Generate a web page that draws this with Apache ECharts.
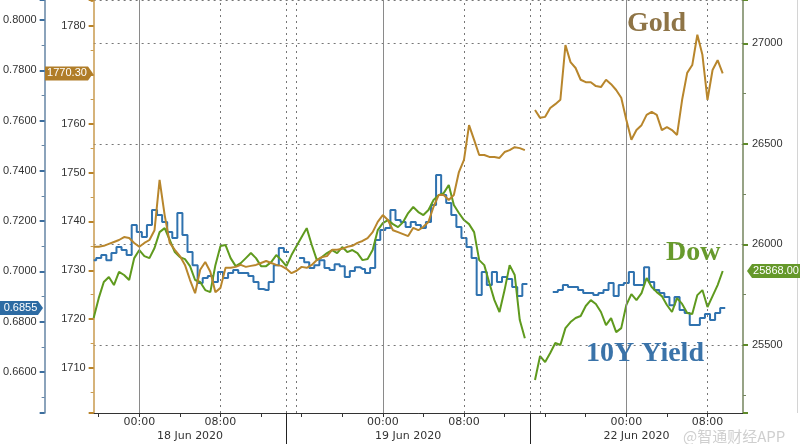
<!DOCTYPE html>
<html><head><meta charset="utf-8">
<script src="https://cdn.jsdelivr.net/npm/echarts@6/dist/echarts.min.js"></script>
<style>html,body{margin:0;padding:0;background:#fff}#c{width:800px;height:444px}</style>
</head><body><div id="c"></div>
<script>
// ---- time slots (30 min, weekend removed) ----
const dayKeys = ['2020-06-17','2020-06-18','2020-06-19','2020-06-22'];
const dateLabels = {'2020-06-18':'18 Jun 2020','2020-06-19':'19 Jun 2020','2020-06-22':'22 Jun 2020'};
const startHour = 19.5, stepHour = 0.5, slotCount = 129;
const categories = [];
for (let i = 0; i < slotCount; i++) {
  const h = startHour + i * stepHour, d = Math.floor(h / 24), hh = h - 24 * d;
  categories.push(dayKeys[d] + ' ' + String(Math.floor(hh)).padStart(2, '0') + ':' + (hh % 1 ? '30' : '00'));
}
const labelTimes = ['00:00', '08:00'];
const sessionBreaks = ['2020-06-18 14:30', '2020-06-19 14:30'];
const midnightLines = ['2020-06-18 00:00', '2020-06-19 00:00', '2020-06-22 00:00'];
const dottedLines = ['2020-06-18 08:00','2020-06-18 14:30','2020-06-18 15:30','2020-06-19 08:00','2020-06-19 14:30','2020-06-19 15:30','2020-06-22 08:00'];

// ---- series values ----
const goldValues = [1734.8,1734.8,1735.0,1735.4,1735.8,1736.2,1736.8,1736.6,1735.6,1734.8,
1735.6,1736.2,1738.2,1748.5,1741.3,1735.6,1734.2,1732.9,1731.1,1728.0,
1725.3,1730.1,1731.7,1729.7,1725.5,1726.4,1730.5,1730.5,1730.7,1731.1,
1730.7,1730.9,1731.1,1731.5,1731.9,1731.5,1731.1,1730.9,1730.3,1729.4,
1729.9,1730.7,1730.5,1731.1,1732.1,1732.7,1732.9,1734.2,1734.2,1734.4,
1734.8,1735.0,1735.6,1736.0,1736.6,1737.8,1739.9,1741.3,1740.3,1738.2,
1737.8,1737.4,1737.0,1738.7,1738.2,1738.9,1739.9,1743.0,1745.4,1745.4,
1744.4,1745.4,1750.1,1752.6,1759.7,1756.7,1753.6,1753.6,1753.2,1753.2,
1753.0,1754.2,1754.6,1755.2,1755.0,1754.6,null,1762.8,1761.2,1761.4,
1763.2,1764.0,1764.9,1776.1,1772.6,1771.4,1769.0,1768.5,1768.5,1767.7,
1767.5,1769.0,1768.1,1766.9,1765.3,1760.8,1756.7,1758.7,1759.7,1761.8,
1762.4,1761.8,1758.7,1759.3,1758.7,1757.7,1764.9,1770.4,1772.0,1778.2,
1774.1,1764.9,1771.0,1773.0,1770.3,null,null,null,null];

const dowValues = [25634,25733,25813,25838,25798,25863,25848,25823,25932,25972,
25942,25932,25982,26061,26081,26022,25962,25937,25927,25892,
25823,25813,25773,25763,25897,25992,25997,25932,25892,25907,
25932,25957,25932,25892,25892,25912,25947,25922,25892,25947,
25992,26037,26081,25997,25922,25937,25957,25972,25957,25987,
25962,25972,25957,25922,25927,25972,26071,26106,26121,26101,
26086,26111,26156,26186,26161,26146,26171,26221,26245,26255,
26295,26196,26156,26121,26101,26061,25922,25897,25808,25723,
25664,25773,25897,25848,25624,25534,null,25326,25445,25415,
25460,25510,25500,25584,25614,25634,25644,25694,25723,25704,
25664,25599,25634,25564,25584,25699,25753,25723,25758,25833,
25788,25763,25743,25699,25664,25733,25704,25659,25654,25748,
25773,25689,25743,25798,25868,null,null,null,null];

const yieldValues = [0.7045,0.7053,0.7065,0.7045,0.7073,0.7097,0.7085,0.7065,0.7185,0.7157,
0.7137,0.7185,0.7244,0.7224,0.7197,0.7157,0.7133,0.7232,0.7145,0.7077,
0.7025,0.6954,0.6974,0.6982,0.6958,0.6998,0.6974,0.6994,0.7006,0.6994,
0.6994,0.6982,0.6958,0.6930,0.6926,0.6958,0.7025,0.7093,0.7077,null,
null,0.7053,0.7037,0.7014,0.7025,0.7045,0.7014,0.7006,0.7029,0.7021,
0.6978,0.7002,0.7017,0.7010,0.6994,0.7014,0.7125,0.7165,0.7173,0.7244,
0.7205,0.7197,0.7177,0.7197,0.7185,0.7173,0.7197,0.7264,0.7384,0.7304,
0.7272,0.7224,0.7177,0.7133,0.7097,0.7053,0.6906,0.6998,0.6946,0.6998,
0.6958,0.6978,0.6970,0.6938,0.6902,0.6950,null,null,null,null,
null,0.6918,0.6926,0.6946,0.6938,0.6938,0.6926,0.6914,0.6914,0.6906,
0.6914,0.6926,0.6954,0.6902,0.6946,0.6954,0.6998,0.6946,0.6946,0.7017,
0.6958,0.6926,0.6914,0.6898,0.6866,0.6898,0.6847,0.6835,0.6787,0.6787,
0.6815,0.6831,0.6807,0.6835,0.6855,null,null,null,null];

// ---- layout / style ----
const GRID = {left: 93, right: 57, top: 0, bottom: 31};
const YIELD_OFFSET = 49;
const C = {gold: '#B8862C', dow: '#5F9A1E', yld: '#2F72AF', goldAxis: '#C89A4E', yldAxis: '#6585A5', dowAxis: '#74855E'};

const chart = echarts.init(document.getElementById('c'), null, {renderer: 'canvas'});
const isMult = (v, s) => Math.abs(v / s - Math.round(v / s)) < 1e-6;
const breakIdx = sessionBreaks.map(b => categories.indexOf(b));
const bounds = [0, ...breakIdx, slotCount - 1];
const centerIdx = bounds.slice(1).map((b, k) => Math.round((bounds[k] + b) / 2));
const lastOf = a => { for (let i = a.length - 1; i >= 0; i--) if (a[i] != null) return a[i]; };

const font = 'Liberation Sans';
const yAxisBase = (color, tickColor) => ({
  type: 'value', splitLine: {show: false},
  axisLine: {show: true, lineStyle: {color: color, width: 1.5}},
  axisTick: {show: true, length: 5, lineStyle: {color: tickColor, width: 2}},
  minorTick: {show: true, splitNumber: 2, length: 3, lineStyle: {color: color}},
});

chart.setOption({
  animation: false,
  backgroundColor: '#fff',
  grid: {left: GRID.left, right: GRID.right, top: GRID.top, bottom: GRID.bottom, containLabel: false},
  xAxis: [
    {type: 'category', data: categories, boundaryGap: false, position: 'bottom',
     axisLine: {lineStyle: {color: '#333', width: 1}},
     axisTick: {interval: (i, v) => v.slice(14) === '00' && (+v.slice(11, 13)) % 4 === 0, length: 4, lineStyle: {color: '#333'}},
     axisLabel: {interval: (i, v) => labelTimes.includes(v.slice(11)), formatter: v => v.slice(11),
                 fontFamily: 'DejaVu Sans', fontSize: 11, color: '#333', margin: 4},
     splitLine: {show: false}},
    {type: 'category', data: categories, boundaryGap: false, position: 'bottom',
     axisLine: {show: false},
     axisTick: {show: true, interval: i => breakIdx.includes(i), length: 31, lineStyle: {color: '#222', width: 1}},
     axisLabel: {interval: i => centerIdx.includes(i), formatter: v => dateLabels[v.slice(0, 10)] || '',
                 fontFamily: 'DejaVu Sans', fontSize: 11, color: '#333', margin: 18},
     splitLine: {show: false}}
  ],
  yAxis: [
    Object.assign(yAxisBase(C.goldAxis, '#B8832A'), {position: 'left', offset: 0, min: 1700.79, max: 1785.32, splitNumber: 8,
      axisLabel: {formatter: v => isMult(v, 10) ? v.toFixed(0) : '', color: '#333', fontSize: 11, fontFamily: font, margin: 8}}),
    Object.assign(yAxisBase(C.yldAxis, '#3C6E9E'), {position: 'left', offset: YIELD_OFFSET, min: 0.6437, max: 0.80796, splitNumber: 8,
      axisLabel: {formatter: v => isMult(v, 0.02) ? v.toFixed(4) : '', color: '#333', fontSize: 11, fontFamily: font, margin: 8}}),
    Object.assign(yAxisBase(C.dowAxis, '#5F8A2A'), {position: 'right', offset: 0, min: 25162, max: 27215, splitNumber: 4,
      axisLabel: {formatter: v => isMult(v, 500) ? v.toFixed(0) : '', color: '#333', fontSize: 11, fontFamily: font, margin: 9},
      splitLine: {show: true, lineStyle: {color: '#777', type: [2, 4], width: 1}}})
  ],
  series: [
    {type: 'line', name: 'grid', yAxisIndex: 2, data: categories.map(() => null), z: 1, silent: true, symbol: 'none',
     markLine: {silent: true, symbol: ['none', 'none'], label: {show: false}, animation: false,
       data: midnightLines.map(c => ({xAxis: c, lineStyle: {type: 'solid', color: '#8a8a8a', width: 1}}))
         .concat(dottedLines.map(c => ({xAxis: c, lineStyle: {type: [2, 4], color: '#777', width: 1}})))}},
    {type: 'line', name: '10Y Yield', yAxisIndex: 1, data: yieldValues, symbol: 'none', z: 3, step: 'middle',
     lineStyle: {color: C.yld, width: 2}, itemStyle: {color: C.yld}},
    {type: 'line', name: 'Dow', yAxisIndex: 2, data: dowValues, symbol: 'none', z: 4,
     lineStyle: {color: C.dow, width: 2}, itemStyle: {color: C.dow}},
    {type: 'line', name: 'Gold', yAxisIndex: 0, data: goldValues, symbol: 'none', z: 5,
     lineStyle: {color: C.gold, width: 2}, itemStyle: {color: C.gold}}
  ]
});

// ---- value tags on axes ----
function tag(xl, xr, y, h, pointRight, fill, text, tx) {
  const p = pointRight
    ? [[xl, y - h / 2], [xr - 5, y - h / 2], [xr, y], [xr - 5, y + h / 2], [xl, y + h / 2]]
    : [[xl + 5, y - h / 2], [xr, y - h / 2], [xr, y + h / 2], [xl + 5, y + h / 2], [xl, y]];
  return [
    {type: 'polygon', shape: {points: p}, style: {fill: fill}, z: 50},
    {type: 'text', x: tx, y: y, style: {text: text, fill: '#fff', font: '11px "Liberation Sans"', align: 'center', verticalAlign: 'middle'}, z: 51}
  ];
}
const gLast = lastOf(goldValues), yLast = lastOf(yieldValues), dLast = lastOf(dowValues);
const gy = chart.convertToPixel({yAxisIndex: 0}, gLast);
const yy = chart.convertToPixel({yAxisIndex: 1}, yLast);
const dy = chart.convertToPixel({yAxisIndex: 2}, dLast);
const W = 800, H = 444;
const gAxisX = GRID.left, yAxisX = GRID.left - YIELD_OFFSET, dAxisX = W - GRID.right;
chart.setOption({graphic: [].concat(
  tag(yAxisX + 1, gAxisX, gy, 14, true, '#B07D28', gLast.toFixed(2), (yAxisX + gAxisX - 4) / 2 + 0.5),
  tag(0, yAxisX - 1, yy, 14, true, '#2D6BA3', yLast.toFixed(4), (yAxisX - 5) / 2 + 1),
  tag(dAxisX + 4, W, dy, 14, false, '#65982A', dLast.toFixed(2), (dAxisX + 9 + W) / 2),
  [
    {type: 'line', shape: {x1: W - 2.5, y1: 0, x2: W - 2.5, y2: H - GRID.bottom}, style: {stroke: '#d4d4d4', lineWidth: 1}, z: 30},
    {type: 'text', x: 627, y: 24, style: {text: 'Gold', fill: '#8E7446', font: 'bold 28px "Liberation Serif"', verticalAlign: 'middle'}, z: 40},
    {type: 'text', x: 666, y: 253, style: {text: 'Dow', fill: '#679A2C', font: 'bold 28px "Liberation Serif"', verticalAlign: 'middle'}, z: 40},
    {type: 'text', x: 586, y: 354, style: {text: '10Y Yield', fill: '#3A73A9', font: 'bold 28px "Liberation Serif"', verticalAlign: 'middle'}, z: 40},
    {type: 'text', x: 683, y: 436, style: {text: '@智通财经APP', fill: '#cfcfcf', font: '15px "Noto Sans CJK SC"', verticalAlign: 'middle', stroke: '#fff', lineWidth: 2}, z: 60}
  ]
)});
</script>
</body></html>
